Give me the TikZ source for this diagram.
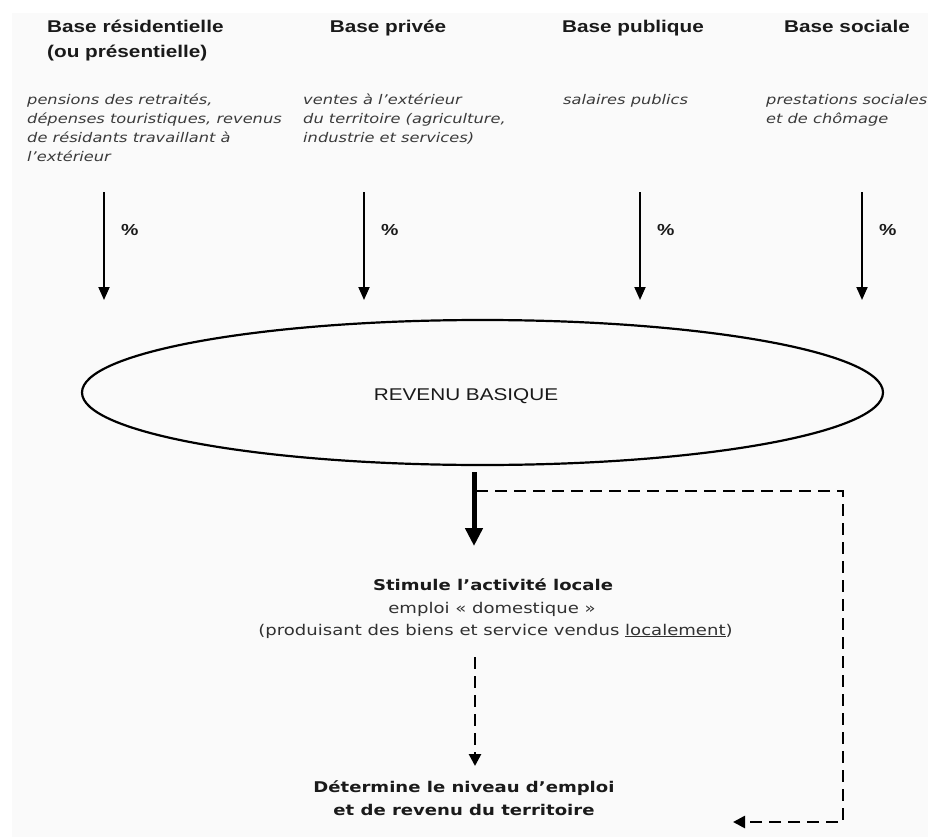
\documentclass[tikz,border=0pt]{standalone}
\usepackage{fontspec}
\setmainfont{Liberation Sans}[FakeStretch=1.22]
\newfontfamily\dv{DejaVu Sans}[FakeStretch=1.22]
\usetikzlibrary{shapes.geometric,arrows.meta}
\definecolor{bg}{HTML}{FAFAFA}
\definecolor{ink}{HTML}{1A1A1A}
\definecolor{desc}{HTML}{3A3A3A}
\begin{document}
\begin{tikzpicture}[x=1pt,y=-1pt,
  titlebox/.style={font=\fontsize{17}{24.5}\selectfont\bfseries, text=ink, inner sep=0pt, anchor=base west},
  descbox/.style={font=\dv\itshape\fontsize{13.3}{19}\selectfont, text=desc, inner sep=0pt, anchor=base west, align=left},
  pctbox/.style={font=\bfseries\fontsize{16}{18}\selectfont, text=ink, inner sep=0pt, anchor=west},
  lowbold/.style={font=\dv\bfseries\fontsize{14.8}{22.5}\selectfont, text=ink, inner sep=0pt, anchor=base, align=center},
  lowreg/.style={font=\dv\fontsize{14.8}{22.5}\selectfont, text=ink!90, inner sep=0pt, anchor=base},
  thinarrow/.style={line width=1.9pt, -{Triangle[width=11pt,length=13pt]}},
  thickarrow/.style={line width=5pt, -{Triangle[width=17pt,length=18pt]}},
  dasharrow/.style={line width=2.6pt, dash pattern=on 12pt off 7pt, -{Triangle[width=12pt,length=12pt]}}
]
\useasboundingbox (0,0) rectangle (928,837);
\fill[white] (0,0) rectangle (928,837);
\fill[bg] (12,13) rectangle (928,837);

% titles
\node[titlebox] (t1a) at (47,32.5) {Base résidentielle};
\node[titlebox] (t1b) at (47,57.5) {(ou présentielle)};
\node[titlebox, anchor=base] (t2) at (388,32.5) {Base privée};
\node[titlebox, anchor=base] (t3) at (633,32.5) {Base publique};
\node[titlebox, anchor=base] (t4) at (847,32.5) {Base sociale};

% descriptions (anchor = baseline of the last line)
\node[descbox] (d1) at (27,162) {pensions des retraités,\\dépenses touristiques, revenus\\de résidants travaillant à\\l’extérieur};
\node[descbox] (d2) at (303,143) {ventes à l’extérieur\\du territoire (agriculture,\\industrie et services)};
\node[descbox] (d3) at (563,105) {salaires publics};
\node[descbox] (d4) at (766,124) {prestations sociales\\et de chômage};

% arrows with %
\foreach \i/\x in {1/104,2/364,3/640,4/862}{
  \coordinate (a\i s) at (\x,192);
  \coordinate (a\i e) at (\x,300);
  \draw[thinarrow] (a\i s) -- (a\i e);
  \node[pctbox] (p\i) at (\x+17,230) {\%};
}

% ellipse
\node[ellipse, draw, line width=2.2pt, minimum width=801pt, minimum height=145pt, inner sep=0pt] (rev) at (482.5,392.5) {};
\node[font=\fontsize{17}{18}\selectfont, text=ink, inner sep=0pt, anchor=base] (revt) at (466,400) {REVENU BASIQUE};

% thick arrow
\coordinate (k1) at (474,472);
\coordinate (k2) at (474,546);
\draw[thickarrow] (k1) -- (k2);

% dashed loop
\coordinate (l1) at (476,491);
\coordinate (l2) at (843,491);
\coordinate (l3) at (843,822);
\coordinate (l4) at (733,822);
\draw[dasharrow] (l1) -- (l2) -- (l3) -- (l4);

% middle texts
\node[lowbold] (stim) at (493,590) {Stimule l’activité locale};
\node[lowreg] (dom) at (492,613) {emploi « domestique »};
\node[lowreg] (prod) at (495.5,635) {(produisant des biens et service vendus \underline{localement})};

% dashed middle arrow
\coordinate (m1) at (475,657);
\coordinate (m2) at (475,766);
\draw[dasharrow] (m1) -- (m2);

\node[lowbold] (det) at (464,815) {Détermine le niveau d’emploi\\et de revenu du territoire};
\end{tikzpicture}
\end{document}
